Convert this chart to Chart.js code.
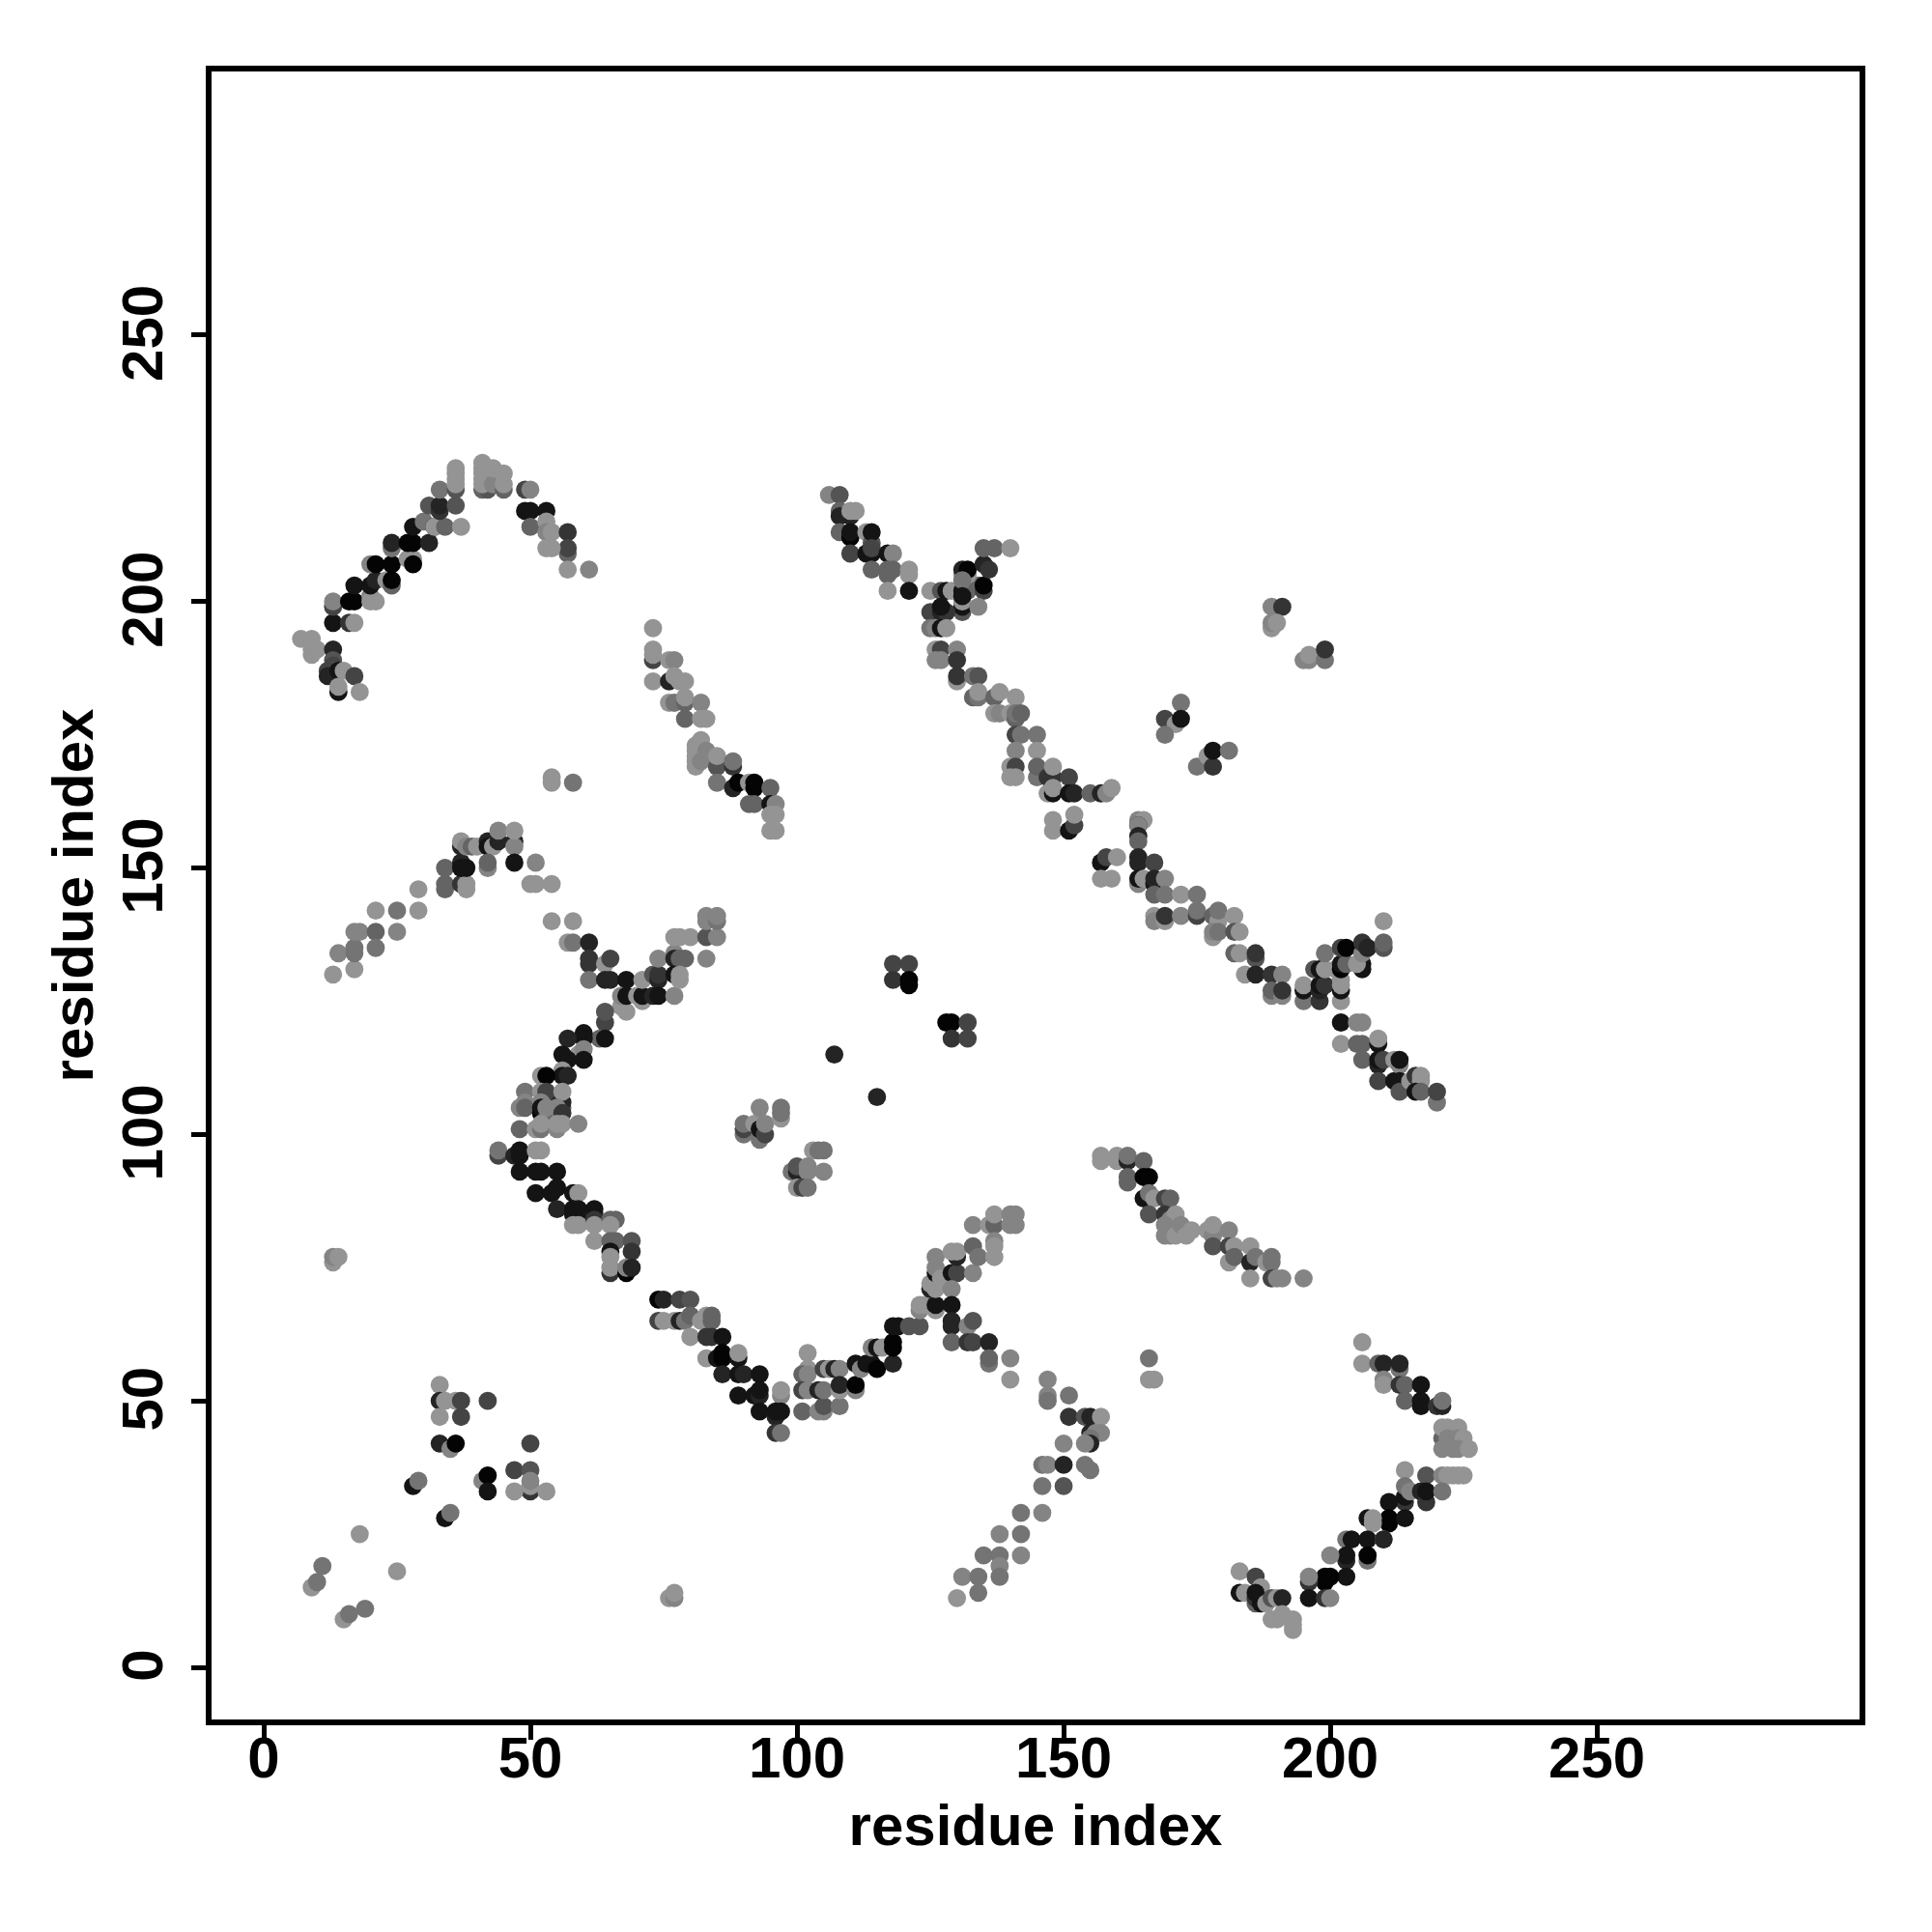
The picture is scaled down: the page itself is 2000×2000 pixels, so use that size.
<!DOCTYPE html>
<html>
<head>
<meta charset="utf-8">
<title>residue contacts</title>
<script src="https://cdn.jsdelivr.net/npm/chart.js@4"></script>
<style>
    body { margin: 0; background: #fff; }
    canvas { display: block; }
</style>
</head>
<body>
<canvas id="contactMap" width="2000" height="2000"></canvas>
<script>
// each contact is [residue x, residue y, strength 0-9]
const tickValues = [0, 50, 100, 150, 200, 250];
const axisTitle = "residue index";

const armTopLeft = [[7,193,0],[9,193,0],[9,191,0],[9,190,0],[10,191,0],[13,191,7],[13,189,4],[13,188,5],[13,187,4],[12,187,5],[12,186,7],[14,187,8],[15,187,0],[17,186,5],[14,183,8],[14,184,0],[18,183,0],
    [13,196,8],[16,196,6],[17,196,0],[13,199,5],[13,200,1],[16,200,9],[17,200,9],[17,203,8],[20,201,1],[20,200,0],[21,200,0],[20,203,8],[21,204,7],[20,207,1],[21,207,9],[23,204,0],[24,203,3],[24,204,9],[24,207,9],[24,210,2],[24,211,7],
    [27,208,0],[28,208,0],[28,207,9],[27,211,9],[28,211,9],[28,214,8],[31,211,7],[30,215,2],[32,214,8],[32,214,0],[34,214,3],[37,214,0],[31,218,4],[33,217,6],[33,218,7],[36,218,4],[33,221,2],
    [36,221,4],[36,222,0],[36,223,0],[36,224,0],[36,225,0],[41,221,3],[42,221,4],[41,222,0],[41,223,0],[41,224,0],[41,225,0],[41,226,0],[43,222,1],[43,225,0],[45,221,3],[45,222,0],[45,224,0],
    [49,221,5],[50,221,1],[49,217,8],[50,217,8],[53,217,8],[50,214,3],[53,215,0],[53,213,1],[54,213,0],[57,213,6],[57,209,3],[57,210,5],[53,210,0],[54,210,0],[57,206,0],[61,206,1],[54,167,0],[54,166,0],[58,166,2]];

const bandUpperMiddle = [[73,195,0],[73,189,5],[73,190,0],[73,191,0],[73,185,0],[76,189,0],[77,189,1],[76,185,7],[77,186,0],[78,185,0],[79,185,0],[76,181,0],[77,181,2],[79,181,3],[79,182,0],[82,181,1],[79,178,3],[82,178,0],[83,178,0],
    [82,174,0],[81,173,0],[81,172,0],[81,171,0],[81,170,0],[81,169,0],[83,172,1],[82,170,1],[85,169,4],[85,171,0],[88,169,6],[88,170,2],[85,166,2],[88,165,7],[89,166,9],[91,166,0],[92,165,9],[92,166,9],[91,162,3],[92,162,3],[95,165,3],[95,162,8],[96,162,1],[95,160,0],[96,160,0],[95,157,0],[96,157,0]];

const bandDiagonalUpper = [[106,220,1],[108,220,4],[108,217,3],[108,216,7],[110,216,7],[110,217,0],[111,217,0],[108,213,3],[110,212,9],[110,213,8],[113,213,0],[114,211,4],[114,213,8],[110,209,5],[113,209,8],[114,209,8],[114,210,5],[117,209,8],[118,209,1],
    [114,206,3],[117,205,3],[117,206,3],[118,206,3],[121,205,0],[121,206,0],[117,202,0],[121,202,8],[125,202,0],[127,202,4],[128,202,8],[129,202,0],[131,202,8],[132,202,3],[134,203,3],[135,202,5],[135,203,9],
    [131,205,0],[132,205,0],[131,206,7],[132,206,9],[135,207,7],[136,206,6],[131,204,2],[131,198,4],[131,199,8],[131,200,0],[131,201,8],[134,199,1],[125,198,5],[127,198,7],[128,198,6],[127,199,8],
    [125,195,2],[126,195,1],[127,195,8],[128,195,0],[126,191,0],[127,191,5],[130,191,1],[126,189,1],[127,189,1],[130,189,6],[130,185,0],[130,186,6],[133,186,2],[134,186,4],
    [133,182,3],[134,182,2],[134,183,0],[137,182,3],[138,183,0],[141,182,0],[137,179,0],[138,179,1],[140,179,0],[141,178,3],[141,179,2],[142,179,3],[141,175,5],[142,175,2],[145,175,2],[141,172,1],[145,172,0],
    [140,169,0],[141,169,5],[140,167,0],[141,167,0],[145,167,2],[145,169,3],[147,167,6],[148,167,6],[148,169,0],[151,167,5],[147,164,0],[148,164,8],[148,165,0],[151,164,8],[152,164,7],[155,164,3],[157,164,7],[158,164,1],[159,165,0],
    [148,159,0],[148,157,0],[151,157,8],[152,158,5],[152,160,0],[135,210,3],[137,210,3],[140,210,0]];

const patchesUpperRight = [[189,199,1],[191,199,6],[189,195,0],[189,196,1],[190,196,0],[195,189,1],[196,189,1],[196,190,0],[199,189,2],[199,191,6],
    [169,178,5],[171,177,0],[172,181,2],[172,178,8],[169,175,2],[175,169,2],[177,171,0],[178,169,6],[178,172,8],[181,172,2]];

const bandDiagonalLower = [[164,159,1],[165,159,0],[164,158,7],[164,158,1],[164,156,7],[164,155,3],[164,152,7],[164,151,7],[167,151,5],[157,151,8],[158,152,5],[160,152,0],[157,148,0],[159,148,0],
    [164,147,1],[164,148,8],[165,148,0],[167,147,8],[167,148,7],[169,148,1],[167,145,3],[169,145,2],[172,145,0],[175,145,2],[167,141,0],[167,140,1],[169,140,0],[169,141,6],[172,141,1],[175,141,5],[175,142,2],
    [178,141,3],[179,140,0],[179,142,2],[182,141,0],[178,137,0],[178,138,1],[179,138,2],[182,138,4],[183,138,0],[182,134,3],[183,134,0],[186,133,4],[186,134,6],[184,130,0],[186,130,7],[189,130,6],[191,130,1],
    [189,126,1],[189,127,3],[191,126,1],[191,127,6],[195,125,2],[195,127,8],[195,128,0],[198,125,6],[198,127,7],[198,128,8],[199,128,6],[202,125,0],[202,127,8],[202,128,0],[202,129,0],
    [197,131,4],[198,131,8],[199,131,0],[199,134,2],[201,131,0],[202,131,9],[202,132,8],[203,132,3],[202,135,5],[203,135,9],[206,131,8],[206,132,8],[205,132,0],[206,134,1],[206,136,6],[207,135,7],[210,135,4],[210,136,3],[210,140,0],
    [202,121,8],[205,121,1],[206,121,1],[202,117,0],[205,117,3],[206,117,3],[206,114,3],[209,117,8],[209,118,0],[209,113,7],[209,114,8],[210,114,5],[209,110,5],[212,110,8],[212,114,0],[213,113,1],[213,114,8],[213,110,8],[213,108,4],
    [215,110,0],[216,111,6],[217,111,0],[217,110,0],[216,108,8],[217,108,3],[220,106,2],[220,108,5]];

const armLeftMiddle = [[13,130,0],[17,131,0],[14,134,1],[17,134,2],[17,135,2],[17,138,1],[18,138,1],[21,138,3],[21,135,2],[25,138,1],[21,142,0],[25,142,2],[29,142,0],[29,146,0],
    [34,146,3],[34,147,3],[34,150,3],[37,147,6],[38,146,0],[38,147,0],[37,151,7],[37,150,8],[38,150,8],[37,154,7],[37,155,0],[38,154,1],[39,154,3],[40,154,0],[42,155,7],[42,154,8],[43,154,0],[44,155,7],[44,157,1],[47,155,7],[47,154,1],[47,157,0],
    [42,150,1],[42,151,3],[47,151,8],[51,151,1],[50,147,0],[51,147,0],[54,147,0],[54,140,0],[58,140,0],[57,136,0],[58,136,2],[61,136,7],
    [61,132,6],[61,133,6],[64,132,0],[65,133,5],[61,129,2],[64,129,7],[65,129,7],[68,129,8],[67,124,0],[68,123,0],[67,126,1],[68,126,8],[70,126,0],[71,125,0],[71,126,8],[71,129,0],
    [73,130,4],[74,129,7],[74,130,6],[74,133,1],[73,126,7],[74,126,8],[77,126,1],[77,134,1],[77,133,7],[78,133,3],[79,133,3],[77,130,8],[78,129,0],[78,130,0],
    [77,137,0],[78,137,0],[80,137,0],[83,137,4],[85,137,1],[83,133,1],[83,140,1],[83,141,1],[85,140,2],[85,141,1]];

const arcCentreLeft = [[64,121,5],[64,123,4],[63,118,3],[64,118,8],[60,119,8],[60,118,8],[57,118,7],[59,115,0],[60,116,1],[60,114,8],[56,115,8],[57,114,8],[56,112,0],[56,111,8],[57,111,7],[52,111,0],[53,111,9],
    [49,108,2],[49,106,1],[48,105,1],[49,105,3],[52,108,0],[53,107,7],[53,108,5],[56,105,3],[56,106,7],[56,108,0],[52,106,1],[52,104,9],[52,105,8],[53,103,3],[53,105,1],[55,105,1],[56,104,6],
    [48,101,3],[51,101,0],[52,101,2],[52,102,0],[55,101,1],[55,102,0],[56,102,0],[59,102,1],
    [44,96,5],[44,97,2],[47,96,7],[48,96,8],[48,97,8],[51,97,0],[52,97,0],[48,93,8],[51,93,8],[52,93,8],[55,93,8],[51,89,8],[54,89,8],[55,90,8],[58,89,8],[59,89,0]];

const arcLowerCentre = [[55,86,7],[58,85,8],[58,86,8],[59,85,8],[59,86,8],[62,85,7],[62,86,8],[58,83,0],[59,83,0],[62,84,6],[62,83,0],[62,80,0],[65,84,3],[66,84,3],[65,83,0],[65,80,3],[66,80,3],[65,78,8],[69,80,4],[69,78,6],
    [65,77,0],[65,74,6],[65,75,0],[68,74,9],[68,75,1],[69,75,7],
    [74,65,5],[75,65,0],[74,69,9],[75,69,7],[78,69,5],[80,69,4],[77,65,0],[78,65,7],[79,65,2],[80,66,3],[82,65,0],[83,66,0],[84,65,3],[84,66,3],
    [80,62,0],[83,62,6],[84,62,6],[86,62,8],[83,58,0],[85,58,8],[86,58,9],[86,59,9],[89,58,8],[89,59,0],[86,55,7],[89,55,8],[90,55,7],[93,55,8],
    [89,51,8],[92,51,8],[93,51,7],[93,52,8],[97,51,1],[97,52,0],[93,48,8],[96,47,7],[96,48,8],[97,48,8],[96,44,6],[97,44,2]];

const arcLowerRight = [[102,59,0],[102,56,0],[101,55,3],[102,55,1],[101,52,5],[102,52,1],[101,48,3],[104,48,1],[105,48,1],[105,49,4],[108,49,2],
    [105,56,5],[106,56,0],[107,56,7],[108,56,1],[104,52,7],[105,52,2],[108,52,0],[108,53,7],[111,52,1],[111,53,9],[111,57,8],[112,56,1],[113,57,8],[114,57,8],[115,56,9],
    [114,60,1],[115,60,8],[116,60,0],[118,57,7],[118,60,9],[118,61,9],[118,64,8],[119,64,8],[121,64,4],[123,64,4],
    [123,67,1],[123,68,0],[124,68,0],[126,67,0],[126,68,8],[125,71,7],[125,72,0],[126,71,0],[126,74,8],[126,75,1],[127,73,0],[129,74,8],[130,74,5],[129,71,1],[126,77,1],[130,77,7],[129,78,0],[130,78,0],[133,74,1],[133,79,3],[134,77,2],[129,68,8],
    [129,64,7],[129,65,7],[132,64,1],[133,65,4],[129,61,3],[132,61,6],[133,61,5],[136,61,7],[136,57,2],[136,58,3],[140,58,1],[140,54,0],
    [133,83,1],[136,83,0],[137,83,3],[137,85,0],[140,83,1],[140,85,1],[141,83,1],[141,85,1],[137,80,1],[137,79,0],[137,77,0]];

const patchesCentre = [[118,132,5],[121,132,5],[118,129,6],[121,129,9],[121,128,9],[128,121,9],[129,121,9],[132,121,5],[129,118,6],[132,118,5],[107,115,7],[115,107,7],
    [90,100,2],[90,101,5],[90,102,2],[92,102,0],[93,99,2],[93,101,8],[93,105,1],[94,100,5],[94,102,1],[97,103,0],[97,104,2],[97,105,2],
    [103,97,0],[104,97,2],[105,97,2],[99,93,2],[100,93,7],[100,94,4],[102,93,1],[102,94,1],[105,93,1],[100,90,0],[101,90,5],[102,90,2]];

const bandLowerRight = [[157,95,0],[157,96,0],[160,95,0],[160,96,0],[162,95,7],[162,96,2],[165,95,3],[162,91,3],[162,92,3],[165,92,9],[166,92,9],[165,88,8],[166,89,2],[167,88,0],[169,88,5],[170,88,3],
    [166,85,4],[169,85,6],[170,84,1],[171,85,0],[169,83,1],[169,81,1],[170,81,1],[171,81,0],[172,83,1],[173,81,0],[174,82,0],[177,82,0],[178,81,1],[178,83,0],[181,82,1],
    [178,79,4],[181,79,5],[182,79,0],[181,76,0],[182,77,3],[185,76,7],[185,79,0],[186,77,2],[188,76,0],[189,76,2],[189,77,2],[185,73,0],[189,73,5],[190,73,1],[191,73,1],[195,73,1],[166,58,2],[166,54,0],[167,54,0]];

const stripeBottomCentre = [[147,54,1],[147,51,1],[147,50,2],[151,51,2],[151,47,6],[154,47,4],[155,47,7],[157,47,0],[155,44,7],[156,44,1],[157,44,1],[155,43,2],[155,42,7],[150,42,1],[154,42,1],
    [146,38,2],[147,38,1],[150,38,7],[154,38,2],[155,37,2],[146,34,2],[150,34,4],[142,29,2],[146,29,1],[138,25,1],[142,25,2],[135,21,2],[138,21,2],[142,21,1],[138,19,1],[131,17,1],[134,17,2],[138,17,2],[134,14,2],[130,13,0]];

const armBottomRight = [[206,61,0],[206,57,0],[209,57,3],[210,57,7],[213,56,2],[213,57,7],[210,54,1],[210,53,0],[213,53,6],[214,53,3],[217,53,8],[214,50,3],[217,49,8],[217,50,8],[220,49,6],[221,49,7],[221,50,2],
    [221,43,3],[221,45,0],[221,41,1],[222,45,0],[224,45,0],[222,43,1],[224,43,1],[225,43,0],[223,41,1],[224,41,1],[226,41,0],
    [214,37,0],[218,36,4],[221,36,1],[222,36,0],[223,36,0],[224,36,0],[225,36,0],[214,31,6],[214,32,8],[214,34,2],[215,33,1],[217,33,7],[218,31,6],[218,33,8],[221,33,2],
    [211,31,8],[211,27,9],[211,28,9],[214,28,8],[207,28,8],[208,27,0],[208,28,0],[203,24,2],[204,24,8],[207,24,8],[210,24,0],[210,24,7],
    [207,20,2],[207,21,9],[203,20,7],[203,21,8],[200,21,1],[203,17,8],[199,16,9],[199,17,9],[200,17,9],[196,16,6],[196,17,1],[196,13,8],[199,13,6],[200,13,1],
    [183,18,0],[186,17,5],[187,15,0],[183,14,8],[184,14,0],[186,12,3],[186,13,6],[186,14,8],[187,12,8],[188,12,0],[189,13,4],[190,13,0],[191,13,7],
    [189,9,0],[190,9,0],[191,10,0],[193,9,0],[193,8,0],[193,7,0]];

const patchesBottomLeft = [[33,53,0],[33,50,7],[34,50,0],[36,50,0],[37,50,5],[42,50,5],[33,47,0],[37,47,5],[33,42,7],[35,41,1],[36,42,9],[50,42,5],
    [47,37,5],[50,37,4],[50,33,6],[50,34,0],[50,35,1],[47,33,0],[53,33,0],[41,35,1],[42,36,9],[42,33,8],[28,34,8],[29,35,2],[34,28,8],[35,29,2],
    [18,25,0],[25,18,0],[11,19,2],[9,15,0],[10,16,2],[19,11,2],[15,9,0],[16,10,2],
    [13,76,0],[13,77,1],[14,77,0],[76,13,0],[77,13,1],[77,14,0]];

const contacts = [].concat(armTopLeft, bandUpperMiddle, bandDiagonalUpper, patchesUpperRight, bandDiagonalLower,
    armLeftMiddle, arcCentreLeft, arcLowerCentre, arcLowerRight, patchesCentre, bandLowerRight,
    stripeBottomCentre, armBottomRight, patchesBottomLeft);

function strengthColor(s) {
    const g = 148 - s * 16;
    return "rgb(" + g + "," + g + "," + g + ")";
}

const fontFamily = "'Liberation Sans', Arial, sans-serif";

// box round the plot and rotated y tick labels, chart.js will not rotate those itself
const frameAndLabels = {
    id: "frameAndLabels",
    afterDraw(chart) {
        const { ctx, chartArea, scales } = chart;
        ctx.save();
        ctx.strokeStyle = "#000";
        ctx.lineWidth = 6;
        ctx.strokeRect(chartArea.left, chartArea.top, chartArea.right - chartArea.left, chartArea.bottom - chartArea.top);
        ctx.fillStyle = "#000";
        ctx.font = "bold 60px " + fontFamily;
        ctx.textAlign = "center";
        ctx.textBaseline = "middle";
        tickValues.forEach(v => {
            ctx.save();
            ctx.translate(151, scales.y.getPixelForValue(v) - 2);
            ctx.rotate(-Math.PI / 2);
            ctx.fillText(String(v), 0, 0);
            ctx.restore();
        });
        ctx.restore();
    }
};

function axisOptions(extra) {
    return Object.assign({
        type: "linear",
        grid: { drawOnChartArea: false, drawTicks: true, tickLength: 18, tickWidth: 5, tickColor: "#000" },
        border: { display: false },
        afterBuildTicks: scale => { scale.ticks = tickValues.map(v => ({ value: v })); }
    }, extra);
}

new Chart(document.getElementById("contactMap").getContext("2d"), {
    type: "scatter",
    data: {
        datasets: [{
            label: "contacts",
            data: contacts.map(c => ({ x: c[0], y: c[1] })),
            pointBackgroundColor: contacts.map(c => strengthColor(c[2])),
            pointBorderWidth: 0,
            pointRadius: 9.4
        }]
    },
    plugins: [frameAndLabels],
    options: {
        responsive: false,
        animation: false,
        layout: { padding: { top: 71, right: 72 } },
        plugins: { legend: { display: false }, tooltip: { enabled: false } },
        scales: {
            x: axisOptions({
                min: -10.33,
                max: 299.8,
                afterFit: scale => { scale.height = 217; },
                ticks: { color: "#000", font: { family: fontFamily, size: 60, weight: "bold" }, padding: -14, maxRotation: 0, autoSkip: false },
                title: { display: true, text: axisTitle, color: "#000", font: { family: fontFamily, size: 60, weight: "bold" }, padding: { top: 0, bottom: 71 } }
            }),
            y: axisOptions({
                min: -10.33,
                max: 300,
                afterFit: scale => { scale.width = 216; },
                ticks: { display: false },
                title: { display: true, text: axisTitle, color: "#000", font: { family: fontFamily, size: 60, weight: "bold" }, padding: { top: 43, bottom: 0 } }
            })
        }
    }
});
</script>
</body>
</html>
